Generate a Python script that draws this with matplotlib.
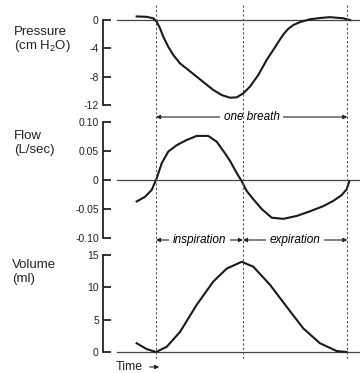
import matplotlib
matplotlib.use("Agg")
from matplotlib import pyplot as plt
from matplotlib.lines import Line2D
from matplotlib.patches import FancyArrowPatch
from matplotlib import transforms

plt.rcParams['font.family'] = ['Liberation Sans', 'DejaVu Sans']
plt.rcParams['mathtext.fontset'] = 'custom'
plt.rcParams['mathtext.rm'] = 'Liberation Sans'
plt.rcParams['mathtext.it'] = 'Liberation Sans:italic'
plt.rcParams['axes.unicode_minus'] = False

# breath phases (arbitrary time units): start, end of inspiration, end of breath
phase_marks = [0.0, 1.0, 2.2]

time_p = [-0.222, -0.107, -0.031, 0.008, 0.046, 0.084, 0.141, 0.199, 0.276, 0.372, 0.468,
          0.563, 0.659, 0.755, 0.851, 0.928, 1.003, 1.08, 1.176, 1.272, 1.368, 1.425,
          1.47, 1.52, 1.58, 1.655, 1.770, 1.9, 2.0, 2.153, 2.23]
pressure = [0.5, 0.45, 0.24, -0.24, -1.17, -2.36, -3.77, -4.94, -6.12, -7.06, -8.0,
            -8.94, -9.88, -10.59, -10.97, -10.92, -10.35, -9.41, -7.76, -5.65, -3.85, -2.75,
            -1.95, -1.25, -0.7, -0.3, 0.1, 0.3, 0.4, 0.24, 0.0]

time_f = [-0.222, -0.126, -0.049, 0.008, 0.066, 0.141, 0.238, 0.353, 0.468, 0.601, 0.698,
          0.793, 0.851, 0.928, 0.985, 1.043, 1.118, 1.215, 1.33, 1.463, 1.617, 1.77,
          1.923, 2.038, 2.134, 2.192, 2.222]
flow = [-0.037, -0.029, -0.017, 0.003, 0.029, 0.049, 0.060, 0.069, 0.076, 0.076, 0.066,
        0.046, 0.033, 0.012, -0.002, -0.019, -0.033, -0.050, -0.065, -0.067, -0.062, -0.054,
        -0.045, -0.036, -0.026, -0.016, -0.002]

time_v = [-0.222, -0.107, 0.0, 0.123, 0.276, 0.468, 0.659, 0.813, 0.985, 1.118, 1.31,
          1.502, 1.693, 1.885, 2.077, 2.192]
volume = [1.35, 0.45, 0.0, 0.8, 3.1, 7.3, 10.9, 12.9, 13.95, 13.2, 10.4,
          7.0, 3.65, 1.35, 0.15, 0.0]

p_ticks = [0, -4, -8, -12]
p_labels = ["0", "-4", "-8", "-12"]
f_ticks = [0.10, 0.05, 0, -0.05, -0.10]
f_labels = ["0.10", "0.05", "0", "-0.05", "-0.10"]
v_ticks = [15, 10, 5, 0]
v_labels = ["15", "10", "5", "0"]

W, H = 360, 373
fig = plt.figure(figsize=(3.6, 3.73), dpi=100)
fig.patch.set_facecolor("white")

X0, X1 = 103, 360
t_left, t_right = -0.609, 2.345


def fy(py):
    return 1 - py / H


def panel(ptop, pbot, ticks, labels, lim):
    ax = fig.add_axes([X0 / W, fy(pbot), (X1 - X0) / W, (pbot - ptop) / H])
    ax.set_xlim(t_left, t_right)
    ax.set_ylim(*lim)
    for s in ["top", "right", "bottom"]:
        ax.spines[s].set_visible(False)
    ax.spines["left"].set_linewidth(1.3)
    ax.spines["left"].set_color("#222222")
    ax.set_xticks([])
    ax.set_yticks(ticks)
    ax.set_yticklabels(labels)
    ax.tick_params(axis="y", direction="in", length=6, width=1.3, pad=3,
                   labelsize=7.5, color="#222222", labelcolor="#222222")
    ax.patch.set_alpha(0)
    ax.axhline(0, xmin=(117 - X0) / (X1 - X0), xmax=1, color="#444444", lw=0.9,
               clip_on=False)
    return ax


ax_p = panel(20, 105, p_ticks, p_labels, (-12, 0))
ax_f = panel(122, 238, f_ticks, f_labels, (-0.10, 0.10))
ax_v = panel(255, 352, v_ticks, v_labels, (0, 15))

ax_p.plot(time_p, pressure, color="#1a1a1a", lw=1.5, clip_on=False)
ax_f.plot(time_f, flow, color="#1a1a1a", lw=1.5, clip_on=False)
ax_v.plot(time_v, volume, color="#1a1a1a", lw=1.5, clip_on=False)

# dotted phase lines across all panels
trans = transforms.blended_transform_factory(ax_p.transData, fig.transFigure)
for t in phase_marks:
    fig.add_artist(Line2D([t, t], [fy(5), fy(360)], transform=trans,
                          color="#555555", lw=0.8, linestyle=(0, (2, 2))))

arrow = dict(arrowstyle="<|-|>", color="#222222", lw=0.8, mutation_scale=6,
             shrinkA=0, shrinkB=0)
box = dict(facecolor="white", edgecolor="none", pad=2.5)

ax_p.annotate("", xy=(phase_marks[0], fy(117)), xytext=(phase_marks[2], fy(117)),
              xycoords=("data", "figure fraction"), textcoords=("data", "figure fraction"),
              arrowprops=arrow)
ax_p.text((phase_marks[0] + phase_marks[2]) / 2, fy(117), "one breath", transform=trans,
          ha="center", va="center", fontsize=8.5, style="italic", bbox=box)

for a, b, lab in [(phase_marks[0], phase_marks[1], "inspiration"),
                  (phase_marks[1], phase_marks[2], "expiration")]:
    ax_p.annotate("", xy=(a, fy(240)), xytext=(b, fy(240)),
                  xycoords=("data", "figure fraction"), textcoords=("data", "figure fraction"),
                  arrowprops=arrow)
    ax_p.text((a + b) / 2, fy(240), lab, transform=trans, ha="center", va="center",
              fontsize=8.5, style="italic", bbox=box)

# axis labels
lab_kw = dict(ha="left", va="center", fontsize=9.5, color="#222222")
fig.text(14 / W, fy(32), "Pressure", **lab_kw)
fig.text(14 / W, fy(46), "(cm H$_2$O)", **lab_kw)
fig.text(14 / W, fy(136), "Flow", **lab_kw)
fig.text(14 / W, fy(150), "(L/sec)", **lab_kw)
fig.text(12 / W, fy(265), "Volume", **lab_kw)
fig.text(12 / W, fy(279), "(ml)", **lab_kw)

fig.text(116 / W, fy(367), "Time", ha="left", va="center", fontsize=9, color="#222222")
fig.add_artist(FancyArrowPatch((147 / W, fy(367)), (162 / W, fy(367)),
                               transform=fig.transFigure, arrowstyle="-|>",
                               mutation_scale=6, color="#222222", lw=0.8))

fig.savefig("out.png", dpi=100, facecolor="white")
